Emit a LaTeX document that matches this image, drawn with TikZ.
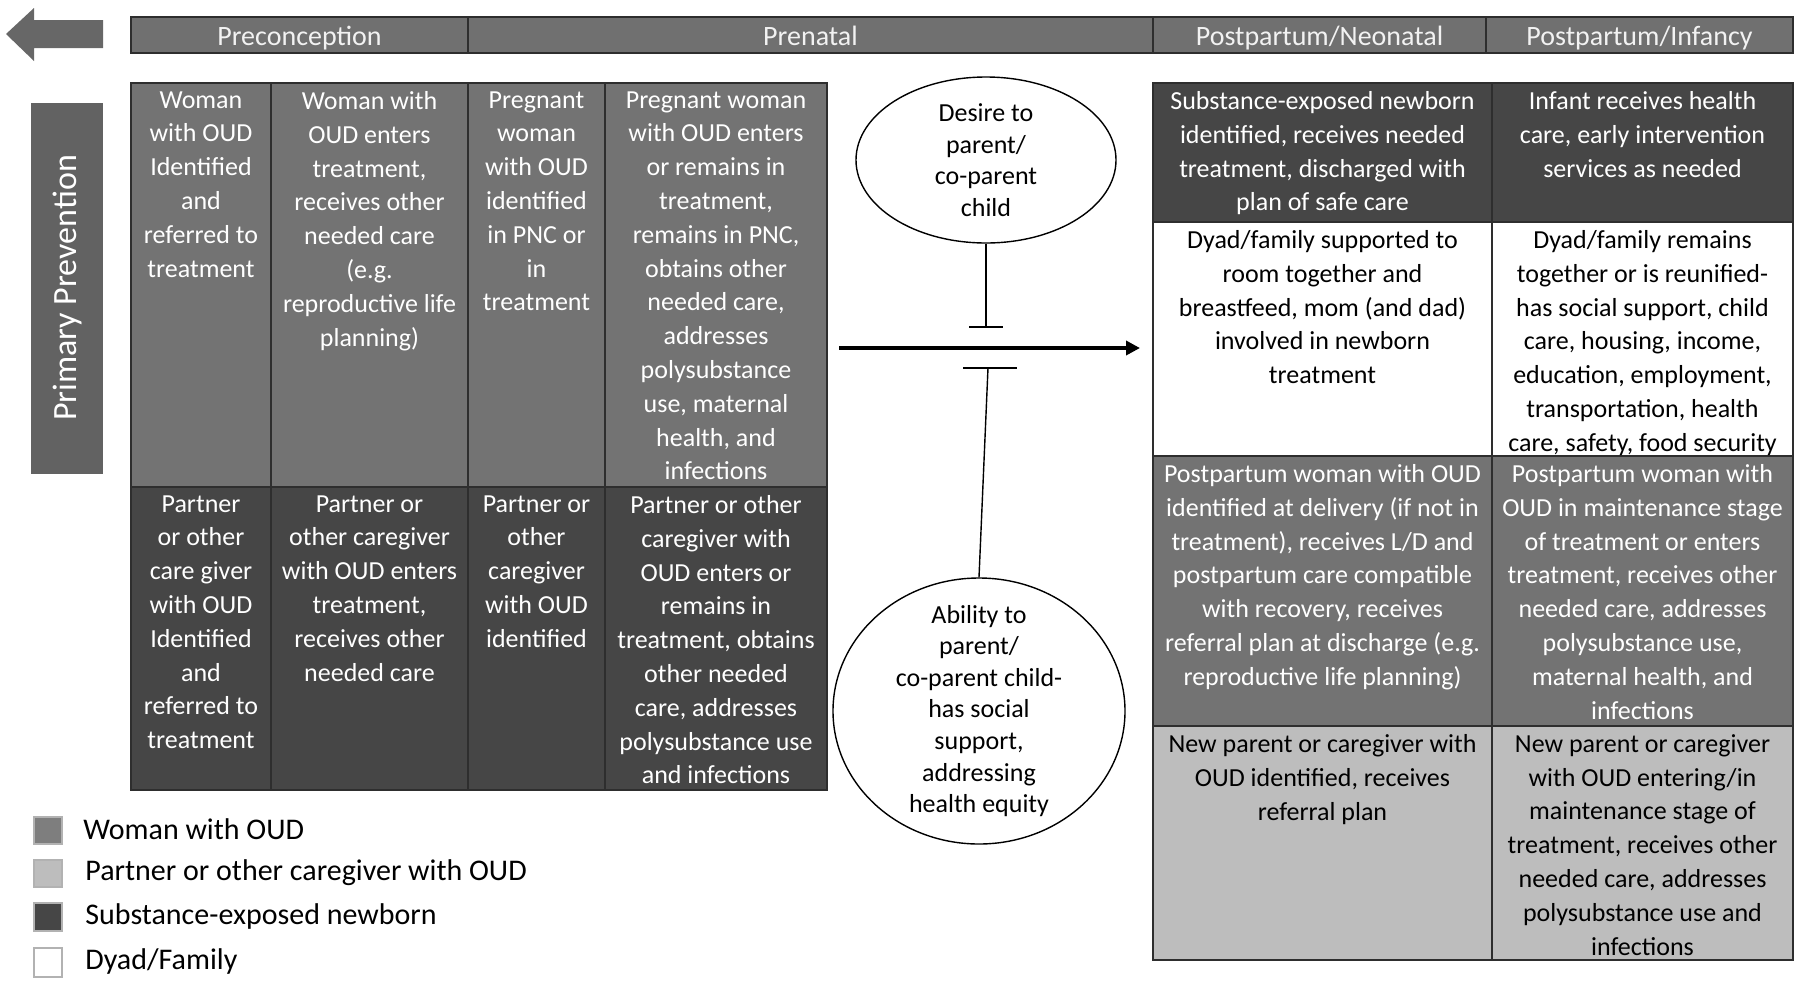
\documentclass[tikz,border=0pt]{standalone}
\usepackage{fontspec}
\setmainfont{Carlito}
\usetikzlibrary{arrows.meta, shapes.geometric}

\definecolor{womangrey}{HTML}{737373}
\definecolor{partnergrey}{HTML}{BDBDBD}
\definecolor{newborngrey}{HTML}{464646}
\definecolor{headgrey}{HTML}{707070}
\definecolor{edgegrey}{HTML}{2E2E2E}
\definecolor{arrowgrey}{HTML}{676767}

\begin{document}
\begin{tikzpicture}[
    x=0.5pt, y=-0.5pt,
    cell/.style={draw=edgegrey, line width=1pt},
    celltext/.style={anchor=north, align=center, inner sep=0pt, font=\fontsize{13}{16.9}\selectfont},
    lighttext/.style={celltext, text=white},
    darktext/.style={celltext, text=black},
    headcell/.style={draw=edgegrey, line width=1pt, fill=headgrey, text=white!95!black,
        inner sep=0pt, minimum height=18pt, text height=12.8pt, text depth=2.5pt,
        font=\fontsize{14}{16}\selectfont},
    bubble/.style={draw, line width=0.7pt, ellipse, inner sep=0pt},
    bubbletext/.style={align=center, inner sep=0pt, font=\fontsize{13}{15.8}\selectfont},
    inhibit/.style={line width=0.7pt},
    swatch/.style={draw=gray!60, line width=0.8pt},
    legendtext/.style={anchor=west, inner sep=0pt, font=\fontsize{15}{18}\selectfont}
]
\useasboundingbox (0,0) rectangle (1800,982);

% Back arrow and side label
\fill[arrowgrey] (6,34) -- (34,8) -- (34,20) -- (103,20) -- (103,48) -- (34,48) -- (34,61) -- cycle;
\node[fill=arrowgrey!95!black, text=white, rotate=90, inner sep=0pt,
    minimum width=185.5pt, minimum height=36pt, font=\fontsize{17}{20}\selectfont]
    (prim) at (67,288) {Primary Prevention};

% Stages
\node[headcell, minimum width=168.5pt] (hpre) at (299.5,35) {Preconception};
\node[headcell, minimum width=342.5pt] (hnat) at (810.5,35) {Prenatal};
\node[headcell, minimum width=166.5pt] (hneo) at (1319.5,35) {Postpartum/Neonatal};
\node[headcell, minimum width=153.5pt] (hinf) at (1639.5,35) {Postpartum/Infancy};

% Left table
\draw[cell, fill=womangrey] (131,83) rectangle (271,487);
\draw[cell, fill=womangrey] (271,83) rectangle (468,487);
\draw[cell, fill=womangrey] (468,83) rectangle (605,487);
\draw[cell, fill=womangrey] (605,83) rectangle (827,487);
\draw[cell, fill=newborngrey] (131,487) rectangle (271,790);
\draw[cell, fill=newborngrey] (271,487) rectangle (468,790);
\draw[cell, fill=newborngrey] (468,487) rectangle (605,790);
\draw[cell, fill=newborngrey] (605,487) rectangle (827,790);

\node[lighttext] (w1) at (201,91) {Woman\\with OUD\\Identified\\and\\referred to\\treatment};
\node[lighttext] (w2) at (369.5,91) {Woman with\\OUD enters\\treatment,\\receives other\\needed care\\(e.g.\\reproductive life\\planning)};
\node[lighttext] (w3) at (536.5,91) {Pregnant\\woman\\with OUD\\identified\\in PNC or\\in\\treatment};
\node[lighttext] (w4) at (716,91) {Pregnant woman\\with OUD enters\\or remains in\\treatment,\\remains in PNC,\\obtains other\\needed care,\\addresses\\polysubstance\\use, maternal\\health, and\\infections};

\node[lighttext] (p1) at (201,495) {Partner\\or other\\care giver\\with OUD\\Identified\\and\\referred to\\treatment};
\node[lighttext] (p2) at (369.5,495) {Partner or\\other caregiver\\with OUD enters\\treatment,\\receives other\\needed care};
\node[lighttext] (p3) at (536.5,495) {Partner or\\other\\caregiver\\with OUD\\identified};
\node[lighttext] (p4) at (716,495) {Partner or other\\caregiver with\\OUD enters or\\remains in\\treatment, obtains\\other needed\\care, addresses\\polysubstance use\\and infections};

% Right table
\draw[cell, fill=newborngrey] (1153,83) rectangle (1492,222);
\draw[cell, fill=newborngrey] (1492,83) rectangle (1793,222);
\draw[cell, fill=white] (1153,222) rectangle (1492,456);
\draw[cell, fill=white] (1492,222) rectangle (1793,456);
\draw[cell, fill=womangrey] (1153,456) rectangle (1492,726);
\draw[cell, fill=womangrey] (1492,456) rectangle (1793,726);
\draw[cell, fill=partnergrey] (1153,726) rectangle (1492,960);
\draw[cell, fill=partnergrey] (1492,726) rectangle (1793,960);

\node[lighttext] (n1) at (1322.5,91) {Substance-exposed newborn\\identified, receives needed\\treatment, discharged with\\plan of safe care};
\node[lighttext] (i1) at (1642.5,91) {Infant receives health\\care, early intervention\\services as needed};
\node[darktext] (n2) at (1322.5,230) {Dyad/family supported to\\room together and\\breastfeed, mom (and dad)\\involved in newborn\\treatment};
\node[darktext] (i2) at (1642.5,230) {Dyad/family remains\\together or is reunified-\\has social support, child\\care, housing, income,\\education, employment,\\transportation, health\\care, safety, food security};
\node[lighttext] (n3) at (1322.5,464) {Postpartum woman with OUD\\identified at delivery (if not in\\treatment), receives L/D and\\postpartum care compatible\\with recovery, receives\\referral plan at discharge (e.g.\\reproductive life planning)};
\node[lighttext] (i3) at (1642.5,464) {Postpartum woman with\\OUD in maintenance stage\\of treatment or enters\\treatment, receives other\\needed care, addresses\\polysubstance use,\\maternal health, and\\infections};
\node[darktext] (n4) at (1322.5,734) {New parent or caregiver with\\OUD identified, receives\\referral plan};
\node[darktext] (i4) at (1642.5,734) {New parent or caregiver\\with OUD entering/in\\maintenance stage of\\treatment, receives other\\needed care, addresses\\polysubstance use and\\infections};

% Desire and ability
\node[bubble, minimum width=130pt, minimum height=83pt] (desire) at (986,160) {};
\node[bubbletext] (desireT) at (desire) {Desire to\\parent/\\co-parent\\child};
\node[bubble, minimum width=146pt, minimum height=133pt] (ability) at (979,711) {};
\node[bubbletext] (abilityT) at (ability) {Ability to\\parent/\\co-parent child-\\has social\\support,\\addressing\\health equity};

\coordinate (upbar) at (986,327);
\coordinate (upbarL) at (969,327);
\coordinate (upbarR) at (1003,327);
\coordinate (lowbar) at (988,368);
\coordinate (lowbarL) at (963,368);
\coordinate (lowbarR) at (1017,368);
\coordinate (flowstart) at (839,348);
\coordinate (flowend) at (1140,348);

\draw[inhibit] (desire.south) -- (upbar);
\draw[inhibit] (upbarL) -- (upbarR);
\draw[inhibit] (ability.north) -- (lowbar);
\draw[inhibit] (lowbarL) -- (lowbarR);
\draw[line width=2.2pt, -{Triangle[length=7pt, width=7pt]}] (flowstart) -- (flowend);

% Legend
\draw[swatch, fill=womangrey!92!white] (34,817) rectangle (62,844);
\draw[swatch, fill=partnergrey] (34,860) rectangle (62,887);
\draw[swatch, fill=newborngrey] (34,903) rectangle (62,931);
\draw[swatch, fill=white] (34,948) rectangle (62,977);
\node[legendtext] (leg1) at (83,829) {Woman with OUD};
\node[legendtext] (leg2) at (85,873) {Partner or other caregiver with OUD};
\node[legendtext] (leg3) at (85,916) {Substance-exposed newborn};
\node[legendtext] (leg4) at (85,961) {Dyad/Family};

\end{tikzpicture}
\end{document}
